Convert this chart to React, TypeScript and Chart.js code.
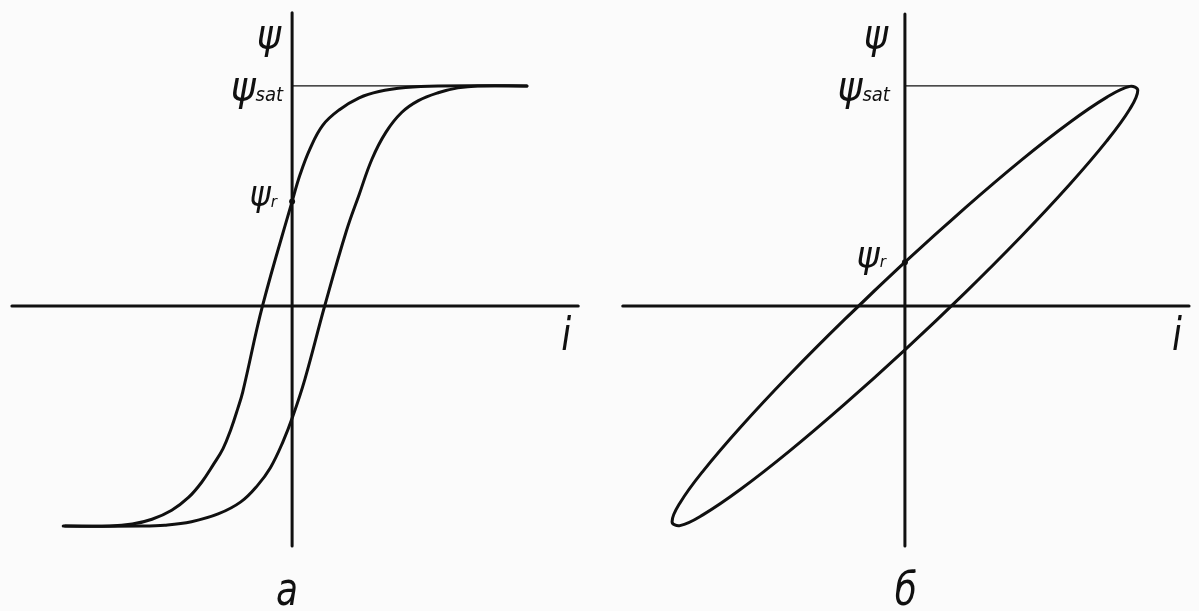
import React, { useEffect, useRef } from "react";
import { Chart, registerables } from "chart.js";

Chart.register(...registerables);

// ---- Panel а: rectangular (saturating) loop, ψ normalised so that ψsat = 1 ----
const psiSat = 1;
const psiRemA = 0.475;

// descending branch (listed by increasing i)
const fallI = [-2.3, -1.85, -1.62, -1.42, -1.22, -1.05, -0.92, -0.8, -0.7, -0.62, -0.55, -0.5, -0.3, 0, 0.08, 0.18, 0.31, 0.48, 0.68, 0.88, 1.15, 1.48, 2.38];
const fallPsi = [-1.0, -1.0, -0.991, -0.969, -0.928, -0.87, -0.803, -0.722, -0.648, -0.56, -0.465, -0.39, 0, 0.475, 0.596, 0.713, 0.821, 0.892, 0.946, 0.975, 0.993, 1.0, 1.0];

// ascending branch (listed by increasing i)
const riseI = [-2.32, -1.52, -1.29, -1.02, -0.75, -0.52, -0.35, -0.22, -0.09, 0.01, 0.13, 0.33, 0.55, 0.68, 0.81, 0.95, 1.11, 1.28, 1.48, 1.68, 1.88, 2.38];
const risePsi = [-1.0, -1.0, -0.996, -0.98, -0.945, -0.89, -0.815, -0.735, -0.614, -0.498, -0.332, 0, 0.341, 0.507, 0.668, 0.789, 0.879, 0.933, 0.969, 0.991, 1.0, 1.0];

// axis extents of panel а
const axisAI = [-2.84, 2.9];
const axisAPsi = [-1.09, 1.332];
const satLineAI = [0, 2.38];

// ---- Panel б: narrow elliptical loop (closed, first segment repeated to close smoothly) ----
const psiRemB = 0.199;
const loopBI = [0.611, 0, -0.611, -1.18, -1.669, -2.044, -2.28, -2.36, -2.28, -2.044, -1.669, -1.18, -0.611, 0, 0.611, 1.18, 1.669, 2.044, 2.28, 2.36, 2.28, 2.044, 1.669, 1.18, 0.611, 0, -0.611];
const loopBPsi = [0.446, 0.199, -0.061, -0.317, -0.552, -0.749, -0.895, -0.98, -0.998, -0.948, -0.834, -0.663, -0.446, -0.199, 0.061, 0.317, 0.552, 0.749, 0.895, 0.98, 0.998, 0.948, 0.834, 0.663, 0.446, 0.199, -0.061];

const axisBI = [-2.86, 2.88];
const axisBPsi = [-1.09, 1.327];
const satLineBI = [0, 2.31];

const INK = "#101010";
const BG = "#fbfbfb";
const FONT_FAMILY = '"DejaVu Sans", "Liberation Sans", sans-serif';

const pts = (xs: number[], ys: number[]) => xs.map((x, k) => ({ x, y: ys[k] }));

type Part = { text: string; size: number; rise?: number; squeeze?: number };
type Label = { x: number; y: number; dx: number; dy: number; align: "left" | "right" | "center"; parts: Part[] };

// draws italic, horizontally condensed labels anchored to data coordinates
const labelPlugin = {
  id: "panelLabels",
  afterDatasetsDraw(chart: any, _args: any, opts: any) {
    const { ctx } = chart;
    const sx = chart.scales.x;
    const sy = chart.scales.y;
    for (const lab of opts.items as Label[]) {
      const px = sx.getPixelForValue(lab.x) + lab.dx;
      const py = sy.getPixelForValue(lab.y) + lab.dy;
      ctx.save();
      ctx.fillStyle = INK;
      ctx.textBaseline = "alphabetic";
      ctx.textAlign = "left";
      const fontOf = (p: Part) => `italic ${p.size}px ${FONT_FAMILY}`;
      const widths = lab.parts.map((p) => {
        ctx.font = fontOf(p);
        return ctx.measureText(p.text).width * (p.squeeze ?? 0.78);
      });
      const total = widths.reduce((a, b) => a + b, 0);
      let cx = lab.align === "right" ? px - total : lab.align === "center" ? px - total / 2 : px;
      lab.parts.forEach((p, k) => {
        ctx.save();
        ctx.font = fontOf(p);
        ctx.translate(cx, py - (p.rise || 0));
        ctx.scale(p.squeeze ?? 0.78, 1);
        ctx.fillText(p.text, 0, 0);
        ctx.restore();
        cx += widths[k];
      });
      ctx.restore();
    }
  },
};

const line = (data: { x: number; y: number }[], width: number, tension = 0) => ({
  data,
  showLine: true,
  borderColor: INK,
  backgroundColor: INK,
  borderWidth: width,
  pointRadius: 0,
  tension,
  fill: false,
  borderCapStyle: "round" as const,
  borderJoinStyle: "round" as const,
});

const dot = (x: number, y: number) => ({
  data: [{ x, y }],
  showLine: false,
  pointRadius: 3,
  pointBackgroundColor: INK,
  pointBorderWidth: 0,
});

function panelOptions(xMin: number, xMax: number, items: Label[]) {
  return {
    animation: false,
    responsive: false,
    devicePixelRatio: 1,
    layout: { padding: 0 },
    events: [],
    scales: {
      x: { type: "linear", min: xMin, max: xMax, display: false },
      y: { type: "linear", min: -1.3677, max: 1.3722, display: false },
    },
    plugins: {
      legend: { display: false },
      tooltip: { enabled: false },
      panelLabels: { items },
    },
  };
}

function Panel({ left, datasets, xMin, xMax, items }: any) {
  const ref = useRef<HTMLCanvasElement>(null);
  useEffect(() => {
    if (!ref.current) return;
    const chart = new Chart(ref.current, {
      type: "scatter",
      data: { datasets },
      options: panelOptions(xMin, xMax, items) as any,
      plugins: [labelPlugin],
    });
    return () => chart.destroy();
  }, []);
  return (
    <div style={{ position: "absolute", left, top: 0, width: 600, height: 611 }}>
      <canvas ref={ref} width={600} height={611} style={{ display: "block" }} />
    </div>
  );
}

const PSI = (size: number): Part => ({ text: "ψ", size, squeeze: 0.92 });
const SUB = (text: string, size: number, rise: number): Part => ({ text, size, rise, squeeze: 0.95 });

export default function App() {
  const datasetsA = [
    line(pts(axisAI, [0, 0]), 3),
    line(pts([0, 0], axisAPsi), 3),
    line(pts(satLineAI, [psiSat, psiSat]), 1.3),
    line(pts(fallI, fallPsi), 3, 0.4),
    line(pts(riseI, risePsi), 3, 0.4),
    dot(0, psiRemA),
  ];
  const itemsA: Label[] = [
    { x: 0, y: axisAPsi[1], dx: -11, dy: 35, align: "right", parts: [PSI(40)] },
    { x: 0, y: psiSat, dx: -9, dy: 14, align: "right", parts: [PSI(41), SUB("sat", 19, -1)] },
    { x: 0, y: psiRemA, dx: -15, dy: 5, align: "right", parts: [PSI(35), SUB("r", 16, -1)] },
    { x: axisAI[1], y: 0, dx: -12, dy: 44, align: "center", parts: [{ text: "i", size: 46 }] },
    { x: 0, y: axisAPsi[0], dx: -5, dy: 59, align: "center", parts: [{ text: "а", size: 46 }] },
  ];

  const datasetsB = [
    line(pts(axisBI, [0, 0]), 3),
    line(pts([0, 0], axisBPsi), 3),
    line(pts(satLineBI, [psiSat, psiSat]), 1.3),
    line(pts(loopBI, loopBPsi), 3, 0.4),
    dot(0, psiRemB),
  ];
  const itemsB: Label[] = [
    { x: 0, y: axisBPsi[1], dx: -17, dy: 34, align: "right", parts: [PSI(40)] },
    { x: 0, y: psiSat, dx: -15, dy: 14, align: "right", parts: [PSI(41), SUB("sat", 19, -1)] },
    { x: 0, y: psiRemB, dx: -19, dy: 5, align: "right", parts: [PSI(38), SUB("r", 16, 0)] },
    { x: axisBI[1], y: 0, dx: -12, dy: 44, align: "center", parts: [{ text: "i", size: 46 }] },
    { x: 0, y: axisBPsi[0], dx: 1, dy: 59, align: "center", parts: [{ text: "б", size: 46 }] },
  ];

  return (
    <div style={{ position: "absolute", left: 0, top: 0, width: 1199, height: 611, background: BG, overflow: "hidden" }}>
      <Panel left={0} datasets={datasetsA} xMin={-2.92} xMax={3.08} items={itemsA} />
      <Panel left={599} datasets={datasetsB} xMin={-3.06} xMax={2.94} items={itemsB} />
    </div>
  );
}
